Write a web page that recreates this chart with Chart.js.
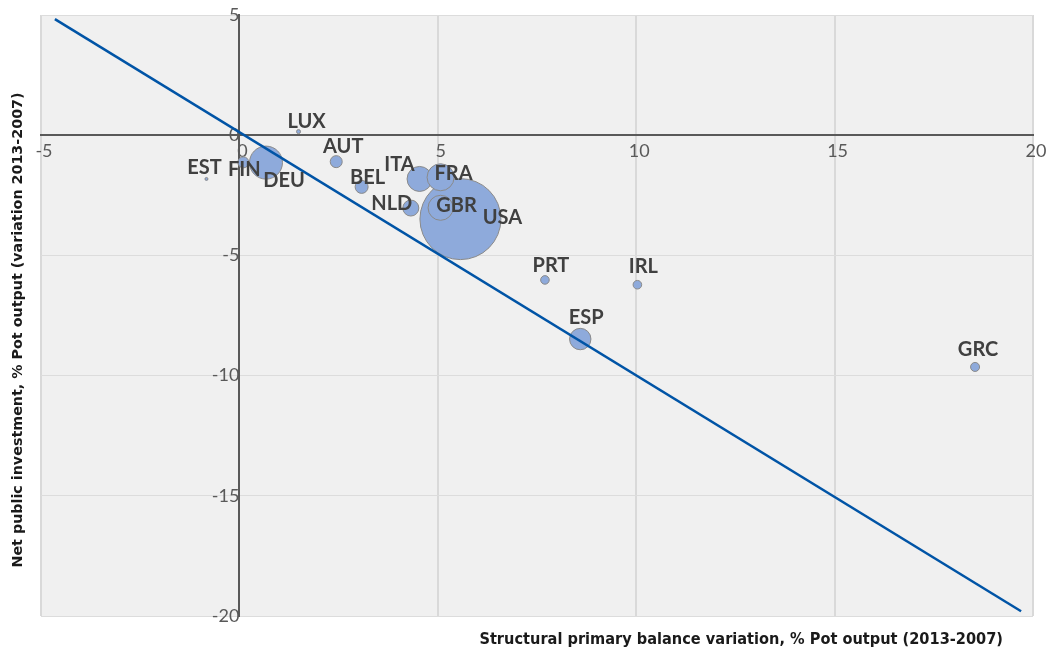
<!DOCTYPE html>
<html>
<head>
<meta charset="utf-8">
<script src="https://cdn.jsdelivr.net/npm/chart.js@4.4.0/dist/chart.umd.min.js"></script>
<style>
html,body{margin:0;padding:0;background:#ffffff;}
#wrap{width:1053px;height:655px;position:relative;}
</style>
</head>
<body>
<div id="wrap"><canvas id="c" width="1053" height="655"></canvas></div>
<script>
// ---- data ----
const countries = ['EST','FIN','DEU','LUX','AUT','BEL','NLD','ITA','USA','FRA','GBR','PRT','IRL','ESP','GRC'];
const primaryBalanceVar = [-0.83, 0.10, 0.67, 1.49, 2.44, 3.08, 4.32, 4.54, 5.57, 5.07, 5.07, 7.70, 10.03, 8.59, 18.54];
const publicInvestmentVar = [-1.82, -1.13, -1.14, 0.15, -1.10, -2.15, -3.03, -1.82, -3.49, -1.75, -3.02, -6.02, -6.22, -8.48, -9.64];
const bubbleSize = [1.5, 5.5, 16.5, 2, 6, 6.5, 8, 12.5, 40.5, 13.5, 12.5, 4.3, 4.3, 10.7, 4.5];
const refLineX = [-4.65, 19.7];
const refLineY = [4.83, -19.8];
const xTicks = [-5, 0, 5, 10, 15, 20];
const yTicks = [5, 0, -5, -10, -15, -20];
const xTitle = 'Structural primary balance variation, % Pot output (2013-2007)';
const yTitle = 'Net public investment, % Pot output (variation 2013-2007)';

// ---- label placement (style) ----
const labelDx = [-2, 1, 18, 8, 7, 6, -19, -20, 42, 13, 16, 6, 6, 6, 3];
const labelDy = [-11, 7, 18, -10, -15, -9, -4, -14, -2, -4, -2, -14, -18.5, -22, -17];

const bubblePoints = countries.map((c, i) => ({x: primaryBalanceVar[i], y: publicInvestmentVar[i], r: bubbleSize[i]}));
const linePoints = refLineX.map((x, i) => ({x: x, y: refLineY[i]}));

const plotBg = {
  id: 'plotBg',
  beforeDraw(chart) {
    const {ctx, chartArea: a} = chart;
    ctx.save();
    ctx.fillStyle = '#f0f0f0';
    ctx.fillRect(a.left, a.top, a.right - a.left, a.bottom - a.top);
    ctx.restore();
  }
};

const pointLabels = {
  id: 'pointLabels',
  afterDatasetsDraw(chart) {
    const {ctx} = chart;
    const meta = chart.getDatasetMeta(1);
    ctx.save();
    ctx.font = 'bold 20px Lato, "Open Sans", sans-serif';
    ctx.fillStyle = '#404040';
    ctx.textAlign = 'center';
    ctx.textBaseline = 'middle';
    meta.data.forEach((el, i) => {
      ctx.fillText(countries[i], el.x + labelDx[i], el.y + labelDy[i]);
    });
    ctx.restore();
  }
};

const axisTitles = {
  id: 'axisTitles',
  afterDraw(chart) {
    const {ctx} = chart;
    ctx.save();
    ctx.fillStyle = '#1a1a1a';
    ctx.font = 'bold 16.2px "DejaVu Sans Condensed", "Open Sans", sans-serif';
    ctx.textAlign = 'right';
    ctx.textBaseline = 'middle';
    ctx.fillText(xTitle, 1003, 640);
    ctx.translate(18, 330);
    ctx.rotate(-Math.PI / 2);
    ctx.textAlign = 'center';
    ctx.font = 'bold 14.3px "DejaVu Sans", sans-serif';
    ctx.fillText(yTitle, 0, 0);
    ctx.restore();
  }
};

function zeroBox(s, horizontal) {
  if (horizontal) { s.height = 0; } else { s.width = 0; }
  s.paddingLeft = 0; s.paddingRight = 0; s.paddingTop = 0; s.paddingBottom = 0;
}

new Chart(document.getElementById('c'), {
  type: 'bubble',
  data: {
    datasets: [
      {
        type: 'line',
        data: linePoints,
        borderColor: '#0054a6',
        borderWidth: 2.5,
        pointRadius: 0,
        fill: false,
        order: 0
      },
      {
        type: 'bubble',
        data: bubblePoints,
        backgroundColor: '#8eaadb',
        borderColor: '#8a8a8a',
        borderWidth: 1,
        order: 1
      }
    ]
  },
  options: {
    responsive: false,
    animation: false,
    events: [],
    layout: {autoPadding: false, padding: {left: 41, top: 15, right: 20, bottom: 39}},
    plugins: {legend: {display: false}, tooltip: {enabled: false}},
    scales: {
      x: {
        type: 'linear',
        min: -5, max: 20,
        position: {y: 0},
        afterBuildTicks: s => { s.ticks = xTicks.map(v => ({value: v})); },
        afterFit: s => zeroBox(s, true),
        grid: {
          drawTicks: false,
          color: c => (c.tick && c.tick.value === 0) ? '#595959' : '#d9d9d9',
          lineWidth: 2
        },
        border: {display: true, color: '#595959', width: 2},
        ticks: {
          color: '#595959',
          font: {family: 'Lato, "Open Sans", sans-serif', size: 18},
          padding: 5,
          labelOffset: 3,
          autoSkip: false,
          maxRotation: 0,
          callback: v => String(v)
        }
      },
      y: {
        type: 'linear',
        min: -20, max: 5,
        position: {x: 0},
        afterBuildTicks: s => { s.ticks = yTicks.map(v => ({value: v})); },
        afterFit: s => zeroBox(s, false),
        grid: {
          drawTicks: false,
          color: c => (c.tick && c.tick.value === 0) ? '#595959' : '#dcdcdc',
          lineWidth: c => (c.tick && c.tick.value === 0) ? 2 : 1
        },
        border: {display: true, color: '#595959', width: 2},
        ticks: {
          color: '#595959',
          font: {family: 'Lato, "Open Sans", sans-serif', size: 18},
          padding: 10,
          autoSkip: false,
          callback: v => String(v)
        }
      }
    }
  },
  plugins: [plotBg, pointLabels, axisTitles]
});
</script>
</body>
</html>
